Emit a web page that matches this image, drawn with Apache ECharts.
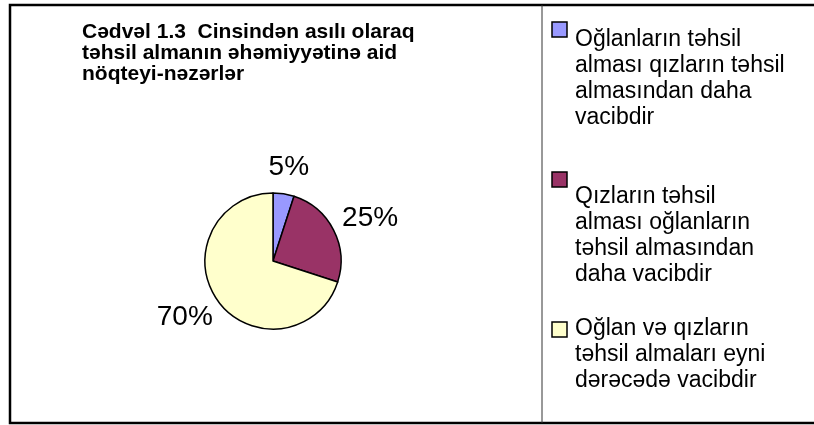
<!DOCTYPE html>
<html>
<head>
<meta charset="utf-8">
<title>Cədvəl 1.3</title>
<script src="https://cdn.jsdelivr.net/npm/echarts@6.0.0/dist/echarts.min.js"></script>
<style>
    html, body { margin: 0; padding: 0; background: #fff; }
    #chart { width: 814px; height: 425px; }
</style>
</head>
<body>
<div id="chart"></div>
<script>
    // 数据
    var titleText = 'Cədvəl 1.3  Cinsindən asılı olaraq\ntəhsil almanın əhəmiyyətinə aid\nnöqteyi-nəzərlər';
    var categories = [
        'Oğlanların təhsil\nalması qızların təhsil\nalmasından daha\nvacibdir',
        'Qızların təhsil\nalması oğlanların\ntəhsil almasından\ndaha vacibdir',
        'Oğlan və qızların\ntəhsil almaları eyni\ndərəcədə vacibdir'
    ];
    var values = [5, 25, 70];
    var colors = ['#9999FF', '#993366', '#FFFFCC'];

    var fontFamily = '"Liberation Sans", Arial, sans-serif';
    var pieCenter = [273, 261];
    var pieRadius = 68;
    var labelGap = 13;
    var legendIconTop = [22, 172, 322];
    var legendTextTop = [27, 184, 316];

    var total = values.reduce(function(a, b) { return a + b; }, 0);

    // 扇区中线角度（从正上方顺时针）
    function midAngle(idx) {
        var before = 0;
        for (var i = 0; i < idx; i++) before += values[i];
        return (before + values[idx] / 2) / total * Math.PI * 2;
    }

    var pieData = categories.map(function(name, i) {
        return { name: name, value: values[i], itemStyle: { color: colors[i] } };
    });

    // 图例（方块 + 多行文字）
    var legendGraphics = [];
    categories.forEach(function(name, i) {
        legendGraphics.push({
            type: 'rect',
            shape: { x: 552, y: legendIconTop[i], width: 15, height: 15 },
            style: { fill: colors[i], stroke: '#000', lineWidth: 1.5 }
        });
        legendGraphics.push({
            type: 'text',
            x: 575,
            y: legendTextTop[i],
            style: {
                text: name,
                fill: '#000',
                font: '23px ' + fontFamily,
                lineHeight: 26
            }
        });
    });

    var chart = echarts.init(document.getElementById('chart'));
    var option = {
        backgroundColor: '#fff',
        animation: false,
        title: {
            text: titleText,
            left: 82,
            top: 22,
            padding: 0,
            textStyle: {
                fontFamily: fontFamily,
                fontSize: 21,
                fontWeight: 'bold',
                lineHeight: 21,
                color: '#000'
            }
        },
        graphic: [
            {
                type: 'rect',
                shape: { x: 10, y: 5, width: 830, height: 418 },
                style: { fill: null, stroke: '#000', lineWidth: 2.5 }
            },
            {
                type: 'line',
                shape: { x1: 542, y1: 5, x2: 542, y2: 423 },
                style: { stroke: '#333', lineWidth: 1 }
            }
        ].concat(legendGraphics),
        series: [{
            type: 'pie',
            center: pieCenter,
            radius: pieRadius,
            startAngle: 90,
            clockwise: true,
            data: pieData,
            itemStyle: { borderColor: '#000', borderWidth: 1.5 },
            label: {
                show: true,
                position: 'outside',
                formatter: '{d}%',
                fontFamily: fontFamily,
                fontSize: 28,
                color: '#000'
            },
            labelLine: { show: false },
            labelLayout: function(params) {
                var a = midAngle(params.dataIndex);
                var s = Math.sin(a), c = Math.cos(a);
                var w = params.labelRect.width, h = params.labelRect.height;
                return {
                    x: pieCenter[0] + (pieRadius + labelGap) * s + w / 2 * s,
                    y: pieCenter[1] - (pieRadius + labelGap) * c - h / 2 * c,
                    align: 'center',
                    verticalAlign: 'middle'
                };
            },
            emphasis: { disabled: true }
        }]
    };
    chart.setOption(option);
</script>
</body>
</html>
